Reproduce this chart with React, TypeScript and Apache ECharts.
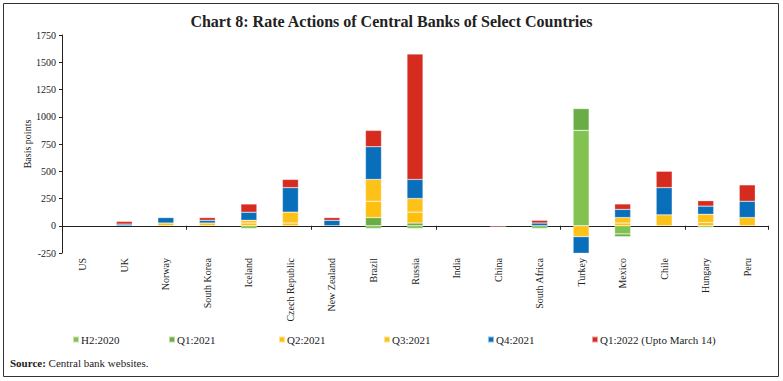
import React, { useEffect, useRef } from 'react';
import * as echarts from 'echarts';

const countries = ['US', 'UK', 'Norway', 'South Korea', 'Iceland', 'Czech Republic', 'New Zealand', 'Brazil', 'Russia', 'India', 'China', 'South Africa', 'Turkey', 'Mexico', 'Chile', 'Hungary', 'Peru'];
const seriesNames = ['H2:2020', 'Q1:2021', 'Q2:2021', 'Q3:2021', 'Q4:2021', 'Q1:2022 (Upto March 14)'];

const h2_2020 = [0, 0, 0, 0, -25, 0, 0, -25, -25, 0, 0, -25, 875, -75, 0, -15, 0];
const q1_2021 = [0, 0, 0, 0, 0, 0, 0, 75, 25, 0, 0, 0, 200, -25, 0, 0, 0];
const q2_2021 = [0, 0, 0, 0, 25, 25, 0, 150, 100, 0, 0, 0, 0, 25, 0, 30, 0];
const q3_2021 = [0, 0, 25, 25, 25, 100, 0, 200, 125, 0, 0, 0, -100, 50, 100, 75, 75];
const q4_2021 = [0, 15, 50, 25, 75, 225, 50, 300, 175, 0, 0, 25, -400, 75, 250, 75, 150];
const q1_2022 = [0, 25, 0, 25, 75, 75, 25, 150, 1150, 0, -10, 25, 0, 50, 150, 50, 150];

const yMin = -250;
const yMax = 1750;
const yInterval = 250;

const FONT = 'Liberation Serif';

export default function App() {
  const ref = useRef<HTMLDivElement>(null);
  useEffect(() => {
    const chart = echarts.init(ref.current!, null, { renderer: 'svg' });
    const allData = [h2_2020, q1_2021, q2_2021, q3_2021, q4_2021, q1_2022];
    const colors = ['#82c250', '#6aad47', '#fdc010', '#fdc21a', '#0a6fba', '#d62b1f'];
    const legendLefts = [72, 168, 278, 383, 487, 591];
    chart.setOption({
      animation: false,
      backgroundColor: '#fff',
      textStyle: { fontFamily: FONT },
      title: {
        text: 'Chart 8: Rate Actions of Central Banks of Select Countries',
        left: 'center',
        top: 8,
        textStyle: { fontFamily: FONT, fontSize: 16, fontWeight: 'bold', color: '#222' },
      },
      legend: seriesNames.map((n, i) => ({
        data: [n],
        left: legendLefts[i],
        top: 334,
        padding: 0,
        icon: 'rect',
        itemWidth: 6,
        itemHeight: 6,
        itemGap: 2,
        textStyle: { fontFamily: FONT, fontSize: 11, color: '#222', padding: [0, 0, 0, -3] },
      })),
      grid: { left: 62, right: 15, top: 35, bottom: 128, containLabel: false },
      xAxis: [
        {
          type: 'category',
          data: countries,
          position: 'bottom',
          axisLine: { show: false, onZero: false },
          axisTick: { show: false },
          axisLabel: { rotate: 90, margin: 5, fontFamily: FONT, fontSize: 10, color: '#222', interval: 0 },
        },
        {
          type: 'category',
          data: countries,
          position: 'bottom',
          axisLine: { show: true, onZero: true, lineStyle: { color: '#222', width: 1 } },
          axisTick: { show: true, inside: false, length: 4, lineStyle: { color: '#222' } },
          axisLabel: { show: false },
        },
      ],
      yAxis: {
        type: 'value',
        min: yMin,
        max: yMax,
        interval: yInterval,
        name: 'Basis points',
        nameLocation: 'middle',
        nameGap: 30,
        nameMoveOverlap: false,
        nameTextStyle: { fontFamily: FONT, fontSize: 10, color: '#222' },
        axisLine: { show: true, lineStyle: { color: '#222', width: 1 } },
        axisTick: { show: true, length: 3, lineStyle: { color: '#222' } },
        axisLabel: { fontFamily: FONT, fontSize: 10, color: '#222', margin: 6, formatter: (v: number) => String(v) },
        splitLine: { show: false },
      },
      series: seriesNames.map((n, i) => ({
        name: n,
        type: 'bar',
        stack: 'total',
        xAxisIndex: 0,
        barWidth: 16,
        clip: true,
        itemStyle: { color: colors[i], borderColor: 'rgba(255,255,255,0.55)', borderWidth: 0.5 },
        data: allData[i].map((v) => (v === 0 ? null : v)),
      })),
      graphic: [
        {
          type: 'rect',
          shape: { x: 3.5, y: 3.5, width: 775, height: 373 },
          style: { fill: 'none', stroke: '#333', lineWidth: 1 },
          silent: true,
        },
        {
          type: 'text',
          left: 10,
          top: 357,
          style: {
            text: '{b|Source:} Central bank websites.',
            font: `11px ${FONT}`,
            fill: '#222',
            rich: {
              b: { fontWeight: 'bold', fontFamily: FONT, fontSize: 11, fill: '#222' },
            },
          },
        },
      ],
    });
    return () => chart.dispose();
  }, []);
  return (
    <div
      ref={ref}
      style={{ position: 'absolute', left: 0, top: 0, width: 783, height: 381, background: '#fff' }}
    />
  );
}
